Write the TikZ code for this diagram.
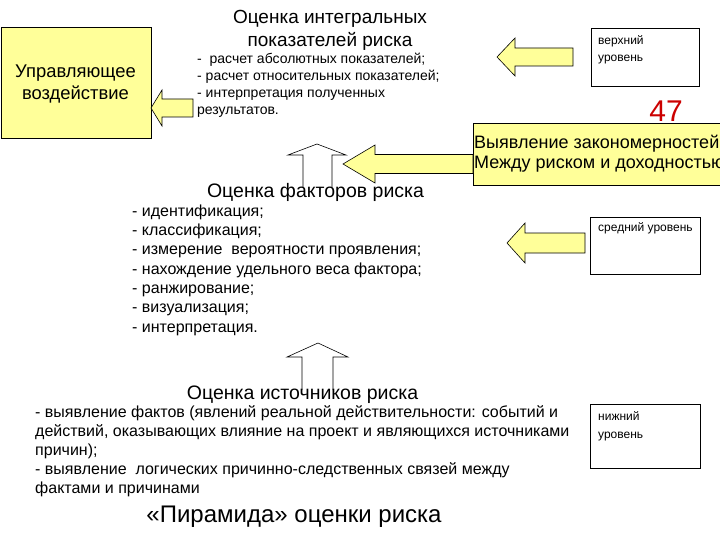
\documentclass[tikz,border=0pt]{standalone}
\usepackage{fontspec}
\setmainfont{Liberation Sans}
\definecolor{paleyellow}{RGB}{255,255,153}
\definecolor{numred}{RGB}{204,0,0}
\tikzset{
  yellowbox/.style={draw=black,fill=paleyellow,line width=0.8pt,inner sep=0pt},
  levelbox/.style={draw=black,line width=0.8pt,inner sep=0pt,anchor=north west},
  blockarrow/.style={draw=black,fill=paleyellow,line width=0.6pt,line join=miter},
  uparrow/.style={draw=black,fill=white,line width=0.6pt},
  txt/.style={inner sep=0pt,align=left,anchor=base west},
  ctxt/.style={inner sep=0pt,align=center,anchor=base},
}

\begin{document}
\begin{tikzpicture}[x=1pt,y=-1pt]
  \useasboundingbox (0,0) rectangle (720,540);
  \clip (0,0) rectangle (720,540);

  % boxes (text anchors below are the baseline of the last line)
  \node[yellowbox,anchor=north west,minimum width=150,minimum height=111] (control) at (0.5,27) {};
  \node[yellowbox,anchor=north west,minimum width=260,minimum height=62] (pattern) at (473,123) {};
  \node[levelbox,minimum width=108,minimum height=58] (upper) at (591,28) {};
  \node[levelbox,minimum width=110,minimum height=57] (middle) at (590,217) {};
  \node[levelbox,minimum width=110,minimum height=64] (lower) at (590,404) {};

  % block arrows
  \draw[blockarrow] (151,108) -- (162,90) -- (162,99) -- (193,99) -- (193,117) -- (162,117) -- (162,126) -- cycle;
  \draw[blockarrow] (497,57) -- (515,38) -- (515,48) -- (573,48) -- (573,66) -- (515,66) -- (515,76) -- cycle;
  \draw[blockarrow] (343,164) -- (375,145) -- (375,154.5) -- (pattern.west |- 0,154.5) -- (pattern.west |- 0,173.5) -- (375,173.5) -- (375,183) -- cycle;
  \draw[blockarrow] (507,243) -- (525,223) -- (525,233) -- (585,233) -- (585,253) -- (525,253) -- (525,263) -- cycle;
  \draw[uparrow] (303,187) -- (303,155) -- (288,155) -- (317,144) -- (346,155) -- (332,155) -- (332,187);
  \draw[uparrow] (302,390) -- (302,357) -- (287,357) -- (318,343) -- (348,357) -- (333,357) -- (333,390);

  % texts
  \node[ctxt,font=\fontsize{18.4}{22}\selectfont] (controltext) at (75.5,100) {Управляющее\\воздействие};
  \node[ctxt,font=\fontsize{19}{23}\selectfont] (integral) at (330,47) {Оценка интегральных\\показателей риска};
  \node[txt,font=\fontsize{14}{17}\selectfont] (intlist) at (197,115)
    {-\ \ расчет абсолютных показателей;\\- расчет относительных показателей;\\- интерпретация полученных\\результатов.};
  \node[txt,font=\fontsize{18}{20}\selectfont] (patterntext) at (474,169) {Выявление закономерностей\\Между риском и доходностью};
  \node[ctxt,font=\fontsize{30}{30}\selectfont,text=numred] (pagenum) at (666,122) {47};
  \node[txt,font=\fontsize{12}{17}\selectfont] (uppertext) at (598,62) {верхний\\уровень};
  \node[txt,font=\fontsize{12}{17}\selectfont] (middletext) at (598,231) {средний уровень};
  \node[txt,font=\fontsize{12}{18}\selectfont] (lowertext) at (598,438) {нижний\\уровень};
  \node[ctxt,font=\fontsize{19.5}{23}\selectfont] (factors) at (315.5,197) {Оценка факторов риска};
  \node[txt,font=\fontsize{16}{19.3}\selectfont] (factlist) at (132,332)
    {- идентификация;\\- классификация;\\- измерение\ \ вероятности проявления;\\- нахождение удельного веса фактора;\\- ранжирование;\\- визуализация;\\- интерпретация.};
  \node[ctxt,font=\fontsize{19.5}{23}\selectfont] (sources) at (302.5,399) {Оценка источников риска};
  \node[txt,font=\fontsize{16}{19}\selectfont] (srclist) at (35,493)
    {- выявление фактов (явлений реальной действительности: событий и\\действий, оказывающих влияние на проект и являющихся источниками\\причин);\\- выявление\ \ логических причинно-следственных связей между\\фактами и причинами};
  \node[ctxt,font=\fontsize{24}{28}\selectfont] (pyramid) at (294,522) {«Пирамида» оценки риска};
\end{tikzpicture}
\end{document}
